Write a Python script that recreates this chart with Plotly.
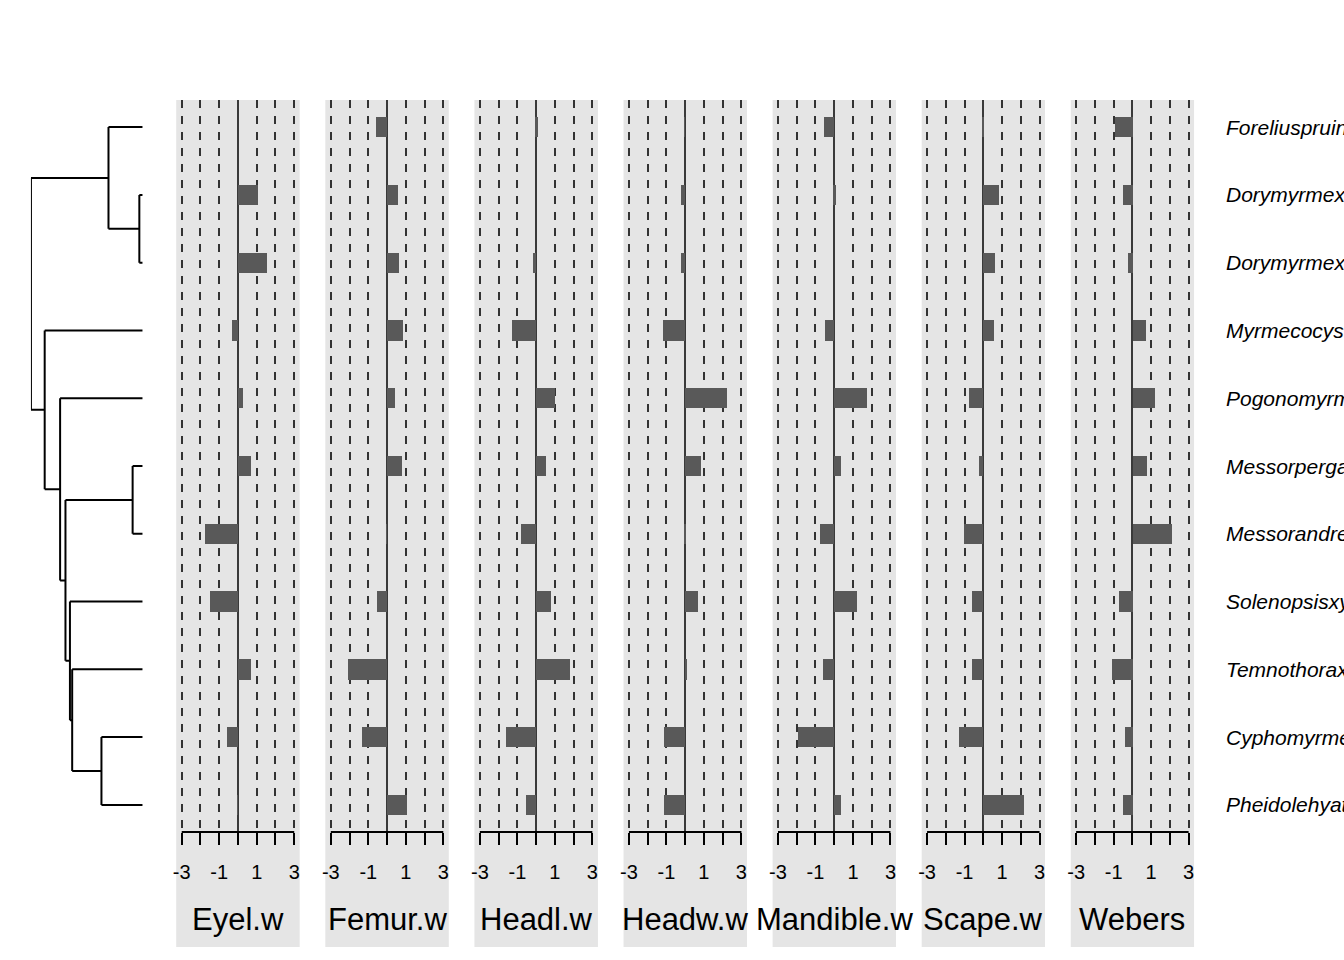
import plotly.graph_objects as go

# ---------------- data ----------------
species = [
    "Foreliuspruinosus", "Dorymyrmexbicolor", "Dorymyrmexinsanus",
    "Myrmecocystusmimicus", "Pogonomyrmexbarbatus", "Messorpergandei",
    "Messorandrei", "Solenopsisxyloni", "Temnothoraxandrei",
    "Cyphomyrmexwheeleri", "Pheidolehyatti",
]
traits = ["Eyel.w", "Femur.w", "Headl.w", "Headw.w", "Mandible.w", "Scape.w", "Webers"]

eyel_w = [0.0, 1.10, 1.53, -0.32, 0.26, 0.68, -1.74, -1.47, 0.68, -0.58, -0.03]
femur_w = [-0.58, 0.58, 0.63, 0.84, 0.42, 0.79, -0.03, -0.53, -2.10, -1.32, 1.05]
headl_w = [0.09, 0.0, -0.14, -1.26, 1.00, 0.53, -0.79, 0.79, 1.84, -1.58, -0.53]
headw_w = [-0.03, -0.21, -0.21, -1.16, 2.26, 0.84, 0.03, 0.68, 0.14, -1.10, -1.10]
mandible_w = [-0.53, 0.09, 0.0, -0.47, 1.79, 0.37, -0.74, 1.26, -0.58, -1.89, 0.37]
scape_w = [0.03, 0.84, 0.63, 0.58, -0.74, -0.21, -1.00, -0.58, -0.58, -1.26, 2.21]
webers = [-0.95, -0.51, -0.26, 0.68, 1.16, 0.74, 2.10, -0.74, -1.10, -0.42, -0.53]
trait_values = [eyel_w, femur_w, headl_w, headw_w, mandible_w, scape_w, webers]

tick_vals = [-3, -2, -1, 0, 1, 2, 3]
tick_text = ["-3", "", "-1", "", "1", "", "3"]

# tree: internal nodes, their depth (root=0, tips=1) and children
node_names = ["root", "fd", "dory", "rest", "pogo", "mr", "messor", "sol", "temno", "cp"]
node_depth = [0.0, 0.694, 0.970, 0.123, 0.261, 0.309, 0.910, 0.349, 0.369, 0.631]
node_children = [
    ["fd", "rest"],
    ["Foreliuspruinosus", "dory"],
    ["Dorymyrmexbicolor", "Dorymyrmexinsanus"],
    ["Myrmecocystusmimicus", "pogo"],
    ["Pogonomyrmexbarbatus", "mr"],
    ["messor", "sol"],
    ["Messorpergandei", "Messorandrei"],
    ["Solenopsisxyloni", "temno"],
    ["Temnothoraxandrei", "cp"],
    ["Cyphomyrmexwheeleri", "Pheidolehyatti"],
]
tip_depth = 1.0

# ---------------- layout helpers ----------------
W, H = 1344, 960
FONT = "Liberation Sans, Arial, Helvetica, sans-serif"
top_px, bottom_px, strip_bottom_px = 100, 832, 947
panel_w = 124
centers = [235.5 + k * 149.4 for k in range(len(traits))]
xr = 3.3

def py(px):
    return 1 - px / H

fig = go.Figure()
shapes = []
annotations = []

rows = list(range(1, len(species) + 1))

for i, (name, vals) in enumerate(zip(traits, trait_values)):
    ax = "" if i == 0 else str(i + 1)
    fig.add_trace(go.Bar(
        x=vals, y=rows, orientation="h", width=0.3,
        marker=dict(color="#595959", line=dict(width=0)),
        xaxis="x" + ax, yaxis="y", hoverinfo="skip", showlegend=False,
    ))
    c = centers[i]
    fig.update_layout(**{
        "xaxis" + ax: dict(
            domain=[(c - panel_w / 2) / W, (c + panel_w / 2) / W],
            range=[-xr, xr], anchor="y",
            tickmode="array", tickvals=tick_vals, ticktext=tick_text,
            ticks="outside", ticklen=12, tickwidth=2, tickcolor="black",
            tickfont=dict(family=FONT, size=20, color="black"),
            ticklabelstandoff=10,
            showline=False,
            showgrid=True, gridcolor="#333333", gridwidth=1.6, griddash="8px,8px",
            zeroline=True, zerolinecolor="#3a3a3a", zerolinewidth=2,
            fixedrange=True,
        )
    })
    # grey column behind panel, axis area and strip
    shapes.append(dict(type="rect", xref="x" + ax, yref="paper",
                       x0=-xr, x1=xr, y0=py(strip_bottom_px), y1=py(top_px),
                       fillcolor="#E5E5E5", line=dict(width=0), layer="below"))
    # axis line from -3 to 3
    shapes.append(dict(type="line", xref="x" + ax, yref="paper",
                       x0=tick_vals[0], x1=tick_vals[-1], y0=py(bottom_px), y1=py(bottom_px),
                       line=dict(color="black", width=2), layer="above"))
    annotations.append(dict(text=name, xref="paper", yref="paper",
                            x=c / W, y=py(919), xanchor="center", yanchor="middle",
                            showarrow=False, font=dict(family=FONT, size=31, color="black")))

# ---------------- tree ----------------
tip_y = {s: r for s, r in zip(species, rows)}
node_idx = {n: k for k, n in enumerate(node_names)}

def y_of(n):
    if n in tip_y:
        return tip_y[n]
    ch = node_children[node_idx[n]]
    ys = [y_of(c) for c in ch]
    return (min(ys) + max(ys)) / 2

def x_of(n):
    return tip_depth if n in tip_y else node_depth[node_idx[n]]

tx, ty = [], []
for n, d, ch in zip(node_names, node_depth, node_children):
    ys = [y_of(c) for c in ch]
    tx += [d, d, None]
    ty += [min(ys), max(ys), None]
    for c in ch:
        tx += [d, x_of(c), None]
        ty += [y_of(c), y_of(c), None]

fig.add_trace(go.Scatter(x=tx, y=ty, mode="lines", xaxis="x8", yaxis="y",
                         line=dict(color="black", width=2), hoverinfo="skip",
                         showlegend=False))

# species labels
for s, r in zip(species, rows):
    annotations.append(dict(text="<i>" + s + "</i>", xref="paper", yref="y",
                            x=1224 / W, y=r, xanchor="left", yanchor="middle",
                            showarrow=False, font=dict(family=FONT, size=21, color="black")))

fig.update_layout(
    width=W, height=H,
    margin=dict(l=0, r=0, t=0, b=0),
    paper_bgcolor="white", plot_bgcolor="rgba(0,0,0,0)",
    bargap=0, barmode="overlay",
    xaxis8=dict(domain=[28 / W, 140 / W], range=[0, 1], anchor="y",
                visible=False, fixedrange=True),
    yaxis=dict(domain=[py(bottom_px), py(top_px)], range=[11.4, 0.6],
               visible=False, anchor="x", fixedrange=True),
    shapes=shapes, annotations=annotations,
)

fig.write_html("out.html", config={"displayModeBar": False})
